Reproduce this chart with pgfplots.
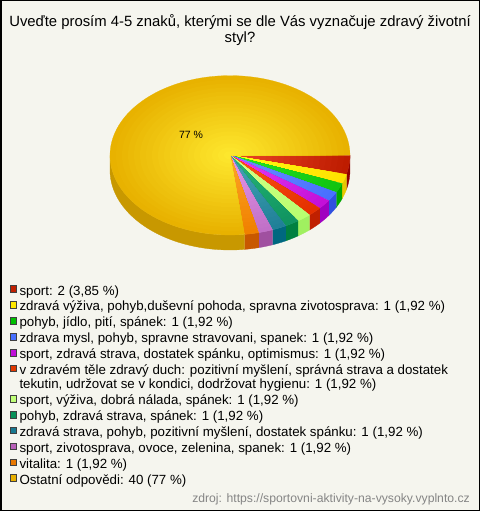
\documentclass[border=0pt]{standalone}
\usepackage{pgfplots}
\usepackage{pgfplotstable}
\usepackage{fontspec}
\setmainfont{Liberation Sans}
\pgfplotsset{compat=1.18}
\definecolor{bg}{RGB}{245,245,238}
\pgfplotstableread{
value ir ig ib or og ob sr sg sb
2  238 72 40   190 28 0    144 0 0
1  255 255 20  255 225 0   232 200 0
1  40 232 40   16 196 16   0 168 0
1  112 144 255 72 112 255  48 80 224
1  232 64 248  196 16 216  160 0 192
1  255 88 24   228 48 0    192 32 0
1  216 255 136 184 255 112 160 240 96
1  40 184 120  16 148 96   0 128 64
1  72 168 184  32 128 152  0 104 128
1  232 152 232 192 112 200 160 80 160
1  255 168 40  240 128 0   200 88 0
40 255 234 48  232 178 0   200 152 0
}\piedata
\def\getc#1#2{\pgfplotstablegetelem{\i}{#1}\of\piedata\global\let#2\pgfplotsretval}
\def\cx{230}\def\cy{155.3}\def\rx{120}\def\ry{79.7}\def\dz{15}\def\N{20}
% legend row: colour, text
\newcommand\lrow[2]{\addlegendimage{legend image code/.code={\path[draw=none,fill=none] (0bp,-.6bp) rectangle (6.5bp,5.9bp);\draw[overlay,draw=black!75,line width=.5bp,fill={rgb,255:red,#1}] (0bp,-3.7bp) rectangle (6.6bp,3bp);}}\addlegendentry{\hspace{3bp}\rule{0pt}{14.4bp}#2}}
\begin{document}
\begin{tikzpicture}
\fill[bg] (0,0) rectangle (480bp,511bp);
\begin{axis}[
  at={(0,0)},anchor=south west,scale only axis,width=480bp,height=511bp,
  xmin=0,xmax=480,ymin=0,ymax=511,y dir=reverse,axis lines=none,clip=false,
  title style={at={(axis cs:240,20.5)},anchor=north,align=center,inner sep=0pt,yshift=0pt,font=\fontsize{14.85bp}{15.5bp}\selectfont},
  title={Uveďte prosím 4-5 znaků, kterými se dle Vás vyznačuje zdravý životní\\styl?},
  legend cell align=left,
  legend style={at={(axis cs:10,280.6)},anchor=north west,draw=none,fill=none,inner sep=0pt,outer sep=0pt,
    nodes={inner sep=0pt,outer sep=0pt},row sep=0pt,
    font=\fontsize{13.3bp}{16bp}\selectfont},
]
% sides, then top faces with a stepped radial gradient
\gdef\aStart{0}
\foreach \i in {0,...,11}{
  \getc{value}\vv \getc{sr}\sR \getc{sg}\sG \getc{sb}\sB
  \pgfmathsetmacro\aEnd{\aStart+\vv/52*360}
  \pgfmathsetmacro\aStop{min(\aEnd,180)}
  \ifdim\aStart pt<180pt
    \pgfmathtruncatemacro\steps{max(1,ceil((\aStop-\aStart)/3))}
    \gdef\ptsA{}\gdef\ptsB{}
    \foreach \k in {0,...,\steps}{
      \pgfmathsetmacro\aa{\aStart+(\aStop-\aStart)*(\k/\steps)}
      \pgfmathsetmacro\xx{\cx+\rx*cos(\aa)}
      \pgfmathsetmacro\yy{\cy+\ry*sin(\aa)}
      \pgfmathsetmacro\yb{\yy+\dz}
      \xdef\ptsA{\ptsA (\xx,\yy)}
      \xdef\ptsB{(\xx,\yb) \ptsB}
    }
    \edef\doplot{\noexpand\addplot[forget plot,draw={rgb,255:red,\sR;green,\sG;blue,\sB},line width=.3bp,fill={rgb,255:red,\sR;green,\sG;blue,\sB}] coordinates {\ptsA \ptsB};}\doplot
  \fi
  \xdef\aStart{\aEnd}
}
\gdef\aStart{0}
\foreach \i in {0,...,11}{
  \getc{value}\vv \getc{ir}\iR \getc{ig}\iG \getc{ib}\iB \getc{or}\oR \getc{og}\oG \getc{ob}\oB
  \pgfmathsetmacro\aEnd{\aStart+\vv/52*360}
  \pgfmathtruncatemacro\steps{max(2,ceil((\aEnd-\aStart)/3))}
  \foreach \j in {\N,...,1}{
    \pgfmathsetmacro\ss{\j/\N}
    \pgfmathtruncatemacro\colR{\iR+(\oR-\iR)*\ss}
    \pgfmathtruncatemacro\colG{\iG+(\oG-\iG)*\ss}
    \pgfmathtruncatemacro\colB{\iB+(\oB-\iB)*\ss}
    \xdef\pts{(\cx,\cy)}
    \foreach \k in {0,...,\steps}{
      \pgfmathsetmacro\aa{\aStart+(\aEnd-\aStart)*(\k/\steps)}
      \pgfmathsetmacro\xx{\cx+\ss*\rx*cos(\aa)}
      \pgfmathsetmacro\yy{\cy+\ss*\ry*sin(\aa)}
      \xdef\pts{\pts (\xx,\yy)}
    }
    \edef\doplot{\noexpand\addplot[forget plot,draw={rgb,255:red,\colR;green,\colG;blue,\colB},line width=.2bp,fill={rgb,255:red,\colR;green,\colG;blue,\colB}] coordinates {\pts};}\doplot
  }
  \xdef\aStart{\aEnd}
}
\lrow{192;green,32;blue,0}{sport: 2 (3,85 \%)}
\lrow{255;green,232;blue,0}{zdravá výživa, pohyb,duševní pohoda, spravna zivotosprava: 1 (1,92 \%)}
\lrow{0;green,192;blue,0}{pohyb, jídlo, pití, spánek: 1 (1,92 \%)}
\lrow{72;green,112;blue,255}{zdrava mysl, pohyb, spravne stravovani, spanek: 1 (1,92 \%)}
\lrow{192;green,16;blue,216}{sport, zdravá strava, dostatek spánku, optimismus: 1 (1,92 \%)}
\lrow{224;green,56;blue,0}{v zdravém těle zdravý duch: pozitivní myšlení, správná strava a dostatek}
\addlegendimage{legend image code/.code={\path[draw=none,fill=none] (0bp,-.6bp) rectangle (6.5bp,5.9bp);}}\addlegendentry{\hspace{3bp}\rule{0pt}{12.8bp}tekutin, udržovat se v kondici, dodržovat hygienu: 1 (1,92 \%)}
\lrow{192;green,255;blue,120}{sport, výživa, dobrá nálada, spánek: 1 (1,92 \%)}
\lrow{8;green,144;blue,88}{pohyb, zdravá strava, spánek: 1 (1,92 \%)}
\lrow{24;green,120;blue,144}{zdravá strava, pohyb, pozitivní myšlení, dostatek spánku: 1 (1,92 \%)}
\lrow{184;green,96;blue,184}{sport, zivotosprava, ovoce, zelenina, spanek: 1 (1,92 \%)}
\lrow{232;green,120;blue,0}{vitalita: 1 (1,92 \%)}
\lrow{232;green,176;blue,0}{Ostatní odpovědi: 40 (77 \%)}
\node[font=\fontsize{10.5bp}{12bp}\selectfont,inner sep=0pt] at (axis cs:191,134.5) {77 \%};
\node[font=\fontsize{12.2bp}{14bp}\selectfont,text=black!48,anchor=east,inner sep=0pt] at (axis cs:470,499) {zdroj: https://sportovni-aktivity-na-vysoky.vyplnto.cz};
\end{axis}
\draw[black,line width=1.5bp] (0.75bp,0.75bp) rectangle (479.25bp,510.25bp);
\pgfresetboundingbox
\path[use as bounding box] (0,0) rectangle (480bp,511bp);
\end{tikzpicture}
\end{document}
